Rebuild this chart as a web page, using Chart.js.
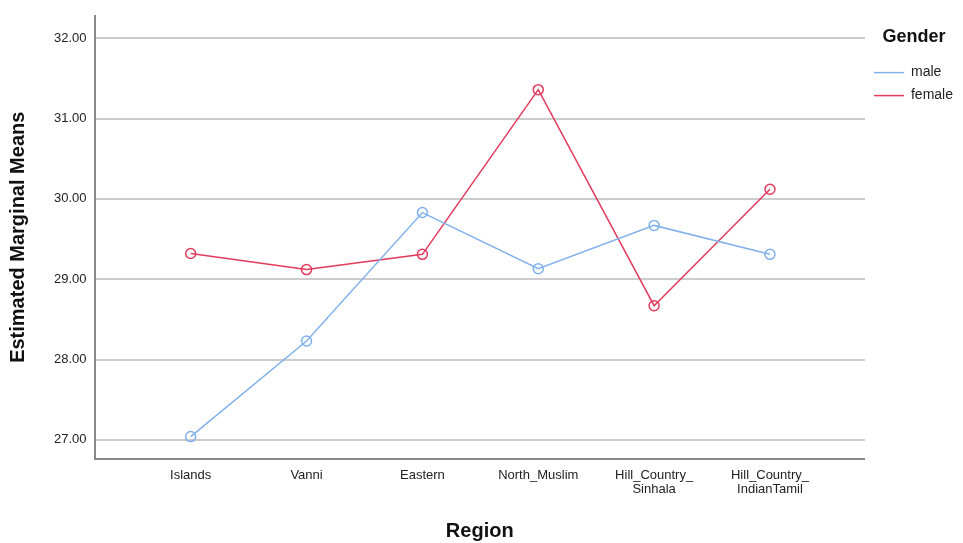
<!DOCTYPE html>
<html>
<head>
    <title>Estimated Marginal Means by Region</title>
    <script src="https://cdn.jsdelivr.net/npm/chart.js"></script>
    <style>
        html, body { margin: 0; padding: 0; background: #ffffff; }
        .chart-container { width: 963px; height: 543px; }
    </style>
</head>
<body>
    <div class="chart-container">
        <canvas id="emmChart"></canvas>
    </div>

    <script>
        const regions = ['Islands', 'Vanni', 'Eastern', 'North_Muslim', ['Hill_Country_', 'Sinhala'], ['Hill_Country_', 'IndianTamil']];
        const maleMeans = [27.04, 28.23, 29.83, 29.13, 29.67, 29.31];
        const femaleMeans = [29.32, 29.12, 29.31, 31.36, 28.67, 30.12];
        const yTicks = [27, 28, 29, 30, 31, 32];

        const toPoints = vals => vals.map((v, i) => ({ x: i, y: v }));

        const lineStyle = color => ({
            borderColor: color,
            backgroundColor: 'rgba(255,255,255,0)',
            pointBorderColor: color,
            pointBackgroundColor: 'rgba(255,255,255,0)',
            borderWidth: 1.5,
            pointRadius: 5,
            pointBorderWidth: 1.5,
            tension: 0
        });

        const ctx = document.getElementById('emmChart').getContext('2d');
        new Chart(ctx, {
            type: 'line',
            data: {
                datasets: [
                    { label: 'male', data: toPoints(maleMeans), ...lineStyle('#80b1ec') },
                    { label: 'female', data: toPoints(femaleMeans), ...lineStyle('#e23b5c') }
                ]
            },
            options: {
                responsive: true,
                maintainAspectRatio: false,
                animation: false,
                layout: { padding: { top: 13, bottom: 0, left: 6, right: 0 } },
                plugins: {
                    tooltip: { enabled: false },
                    legend: {
                        position: 'right',
                        align: 'start',
                        title: {
                            display: true,
                            text: 'Gender',
                            color: '#111',
                            font: { family: 'Arial, Liberation Sans', size: 18, weight: 'bold' },
                            padding: { top: 15, bottom: 7 }
                        },
                        labels: {
                            usePointStyle: true,
                            pointStyle: 'line',
                            pointStyleWidth: 30,
                            boxWidth: 30,
                            boxHeight: 2,
                            padding: 9,
                            color: '#222',
                            font: { family: 'Arial, Liberation Sans', size: 14 }
                        }
                    }
                },
                scales: {
                    x: {
                        type: 'linear',
                        min: -0.83,
                        max: 5.82,
                        afterBuildTicks: scale => {
                            scale.ticks = regions.map((r, i) => ({ value: i }));
                        },
                        ticks: {
                            autoSkip: false,
                            maxRotation: 0,
                            color: '#222',
                            padding: 10,
                            font: { family: 'Arial, Liberation Sans', size: 13, lineHeight: 1.05 },
                            callback: value => regions[value]
                        },
                        grid: { display: false, drawTicks: false },
                        border: { display: true, color: '#888', width: 2 },
                        title: {
                            display: true,
                            text: 'Region',
                            color: '#111',
                            font: { family: 'Arial, Liberation Sans', size: 20, weight: 'bold' },
                            padding: { top: 13, bottom: 0 }
                        }
                    },
                    y: {
                        min: 26.765,
                        max: 32.28,
                        afterBuildTicks: scale => {
                            scale.ticks = yTicks.map(v => ({ value: v }));
                        },
                        ticks: {
                            color: '#222',
                            padding: 8,
                            font: { family: 'Arial, Liberation Sans', size: 13 },
                            callback: value => value.toFixed(2)
                        },
                        grid: { color: '#cccccc', lineWidth: 2, drawTicks: false },
                        border: { display: true, color: '#888', width: 2 },
                        title: {
                            display: true,
                            text: 'Estimated Marginal Means',
                            color: '#111',
                            font: { family: 'Arial, Liberation Sans', size: 20, weight: 'bold' },
                            padding: { top: 0, bottom: 16 }
                        }
                    }
                }
            }
        });
    </script>
</body>
</html>
